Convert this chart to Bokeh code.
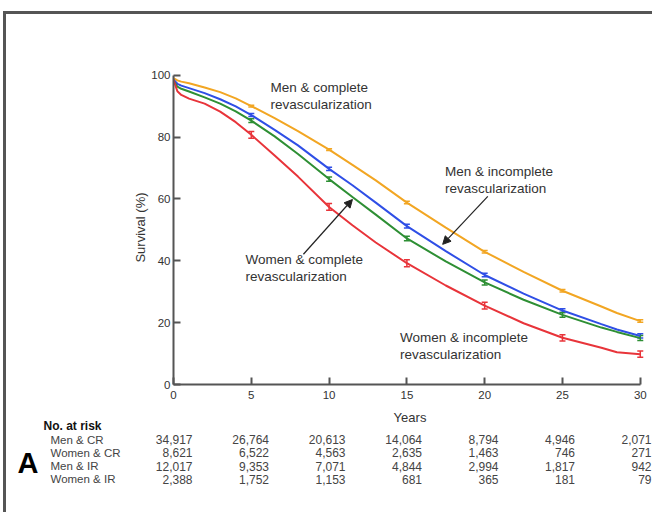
from bokeh.plotting import figure
from bokeh.layouts import column
from bokeh.models import (Range1d, ColumnDataSource, Whisker, TeeHead,
                          Arrow, NormalHead, FixedTicker)
from bokeh.core.properties import value
from bokeh.embed import file_html
from bokeh.resources import INLINE

FONT = "Liberation Sans"

# ---------------- data ----------------
t = [0, 0.25, 0.5, 1, 2, 3, 4, 5, 6.5, 8, 10, 11.5, 13, 15, 17.5, 20, 22.5, 25, 27.5, 28.5, 30]
men_cr = [99.0, 98.3, 97.9, 97.4, 96.0, 94.5, 92.5, 90.0, 86.1, 81.9, 75.9, 71.0, 66.0, 58.8, 50.7, 42.9, 36.4, 30.3, 25.2, 23.1, 20.5]
men_ir = [98.5, 97.2, 96.6, 95.8, 94.2, 92.2, 89.9, 87.1, 82.3, 77.3, 69.7, 64.4, 58.8, 51.2, 43.1, 35.4, 29.4, 23.9, 19.5, 17.8, 15.7]
women_cr = [98.0, 96.3, 95.6, 94.7, 92.8, 90.8, 88.3, 85.3, 80.2, 74.5, 66.4, 60.6, 54.9, 47.2, 39.8, 33.0, 27.4, 22.5, 18.4, 17.0, 15.0]
women_ir = [98.5, 94.8, 93.6, 92.4, 90.8, 88.2, 84.8, 80.7, 74.0, 67.2, 57.4, 51.5, 45.9, 39.2, 32.0, 25.5, 19.8, 15.1, 11.9, 10.4, 9.8]

mark_years = [5, 10, 15, 20, 25, 30]
men_cr_err = [0.3, 0.3, 0.4, 0.4, 0.4, 0.4]
men_ir_err = [0.5, 0.5, 0.6, 0.6, 0.6, 0.7]
women_cr_err = [0.6, 0.7, 0.7, 0.8, 0.8, 0.8]
women_ir_err = [1.1, 1.1, 1.1, 1.1, 1.0, 1.0]

series_names = ["Men & CR", "Women & CR", "Men & IR", "Women & IR"]
risk_years = [0, 5, 10, 15, 20, 25, 30]
risk_men_cr = ["34,917", "26,764", "20,613", "14,064", "8,794", "4,946", "2,071"]
risk_women_cr = ["8,621", "6,522", "4,563", "2,635", "1,463", "746", "271"]
risk_men_ir = ["12,017", "9,353", "7,071", "4,844", "2,994", "1,817", "942"]
risk_women_ir = ["2,388", "1,752", "1,153", "681", "365", "181", "79"]

x_ticks = [0, 5, 10, 15, 20, 25, 30]
y_ticks = [0, 20, 40, 60, 80, 100]

annot_text = ["Men & complete\nrevascularization", "Men & incomplete\nrevascularization",
              "Women & complete\nrevascularization", "Women & incomplete\nrevascularization"]
annot_x = [6.23, 17.45, 4.62, 14.56]
annot_y = [93.2, 66.0, 37.6, 12.4]

# arrows: (x_start, y_start, x_end, y_end)
arrow_men_ir = (20.2, 60.8, 17.3, 45.3)
arrow_women_cr = (8.35, 42.1, 11.5, 59.8)

C_YEL = "#f2a623"
C_BLU = "#2f4fe6"
C_GRN = "#2e8f34"
C_RED = "#e8343a"
TXT = "#333333"
AX = "#555555"

W = 646
# ---------------- main figure ----------------
p = figure(width=W, height=413, x_range=Range1d(0, 30.4), y_range=Range1d(0, 101.5),
           output_backend="svg", toolbar_location=None,
           min_border_left=167, min_border_right=6, min_border_top=56, min_border_bottom=41)
p.outline_line_color = None
p.grid.visible = False
p.border_fill_color = None
p.frame_align = False

for ax in (p.xaxis[0], p.yaxis[0]):
    ax.axis_line_color = AX
    ax.axis_line_width = 2
    ax.major_tick_line_color = AX
    ax.major_tick_line_width = 2
    ax.major_tick_in = 7
    ax.major_tick_out = 0
    ax.minor_tick_line_color = None
    ax.major_label_text_font = FONT
    ax.major_label_text_font_size = "11.5px"
    ax.major_label_text_color = TXT
    ax.axis_label_text_font = FONT
    ax.axis_label_text_font_size = "13px"
    ax.axis_label_text_font_style = "normal"
    ax.axis_label_text_color = TXT

p.xaxis.ticker = FixedTicker(ticks=x_ticks)
p.yaxis.ticker = FixedTicker(ticks=y_ticks)
p.xaxis.bounds = (0, 30)
p.yaxis.bounds = (0, 100)
p.xaxis.axis_label = "Years"
p.yaxis.axis_label = "Survival (%)"
p.xaxis.major_label_standoff = 6
p.xaxis.axis_label_standoff = 8
p.yaxis.major_label_standoff = 3
p.yaxis.axis_label_standoff = 0

curves = [(men_cr, men_cr_err, C_YEL), (men_ir, men_ir_err, C_BLU),
          (women_cr, women_cr_err, C_GRN), (women_ir, women_ir_err, C_RED)]
for vals, errs, col in curves:
    p.line(t, vals, line_color=col, line_width=2)
    mv = [vals[t.index(y)] for y in mark_years]
    src = ColumnDataSource(dict(x=mark_years,
                                lo=[v - e for v, e in zip(mv, errs)],
                                hi=[v + e for v, e in zip(mv, errs)]))
    w = Whisker(source=src, base="x", lower="lo", upper="hi", line_color=col, line_width=1.5,
                upper_head=TeeHead(size=6, line_color=col, line_width=1.5),
                lower_head=TeeHead(size=6, line_color=col, line_width=1.5))
    p.add_layout(w)

p.text(x=annot_x, y=annot_y, text=annot_text, text_font=value(FONT), text_font_size="13.5px",
       text_color=TXT, text_baseline="middle", text_align="left", text_line_height=1.15)

for (xs, ys, xe, ye) in (arrow_men_ir, arrow_women_cr):
    p.add_layout(Arrow(x_start=xs, y_start=ys, x_end=xe, y_end=ye, line_color="#222222",
                       line_width=1.2,
                       end=NormalHead(size=8, fill_color="#222222", line_color="#222222")))

# ---------------- number-at-risk table ----------------
# x: year of each column (table columns slightly tighter than the plot axis); y: row index (0 = header)
tb = figure(width=W, height=97, x_range=Range1d(-12.157, 30.065),
            y_range=Range1d(6.489, -0.805), output_backend="svg", toolbar_location=None,
            min_border_left=0, min_border_right=0, min_border_top=0, min_border_bottom=0)
tb.axis.visible = False
tb.grid.visible = False
tb.outline_line_color = None
tb.background_fill_color = None
tb.border_fill_color = None
tb.frame_align = False
tb.styles = {"margin-top": "-12px"}

tb.text(x=[0], y=[0], text=["No. at risk"], x_offset=-149, text_font=value(FONT),
        text_font_size="12px", text_font_style="bold", text_color="#111111",
        text_baseline="middle", text_align="left")
tb.text(x=[0] * 4, y=[1, 2, 3, 4], text=series_names, x_offset=-142, text_font=value(FONT),
        text_font_size="11.5px", text_color="#444444", text_baseline="middle", text_align="left")
for i, row in enumerate([risk_men_cr, risk_women_cr, risk_men_ir, risk_women_ir]):
    tb.text(x=risk_years, y=[i + 1] * len(risk_years), text=row, text_font=value(FONT),
            text_font_size="12px", text_color="#444444", text_baseline="middle", text_align="right")
tb.text(x=[0], y=[2.73], text=["A"], x_offset=-175, text_font=value(FONT), text_font_size="29px",
        text_font_style="bold", text_color="#000000", text_baseline="middle", text_align="left")

layout = column(p, tb, spacing=0,
                styles={"border-top": "3px solid #555555", "border-left": "3px solid #555555",
                        "margin-left": "3px", "margin-top": "11px"})

open("out.html", "w").write(file_html(layout, INLINE))
